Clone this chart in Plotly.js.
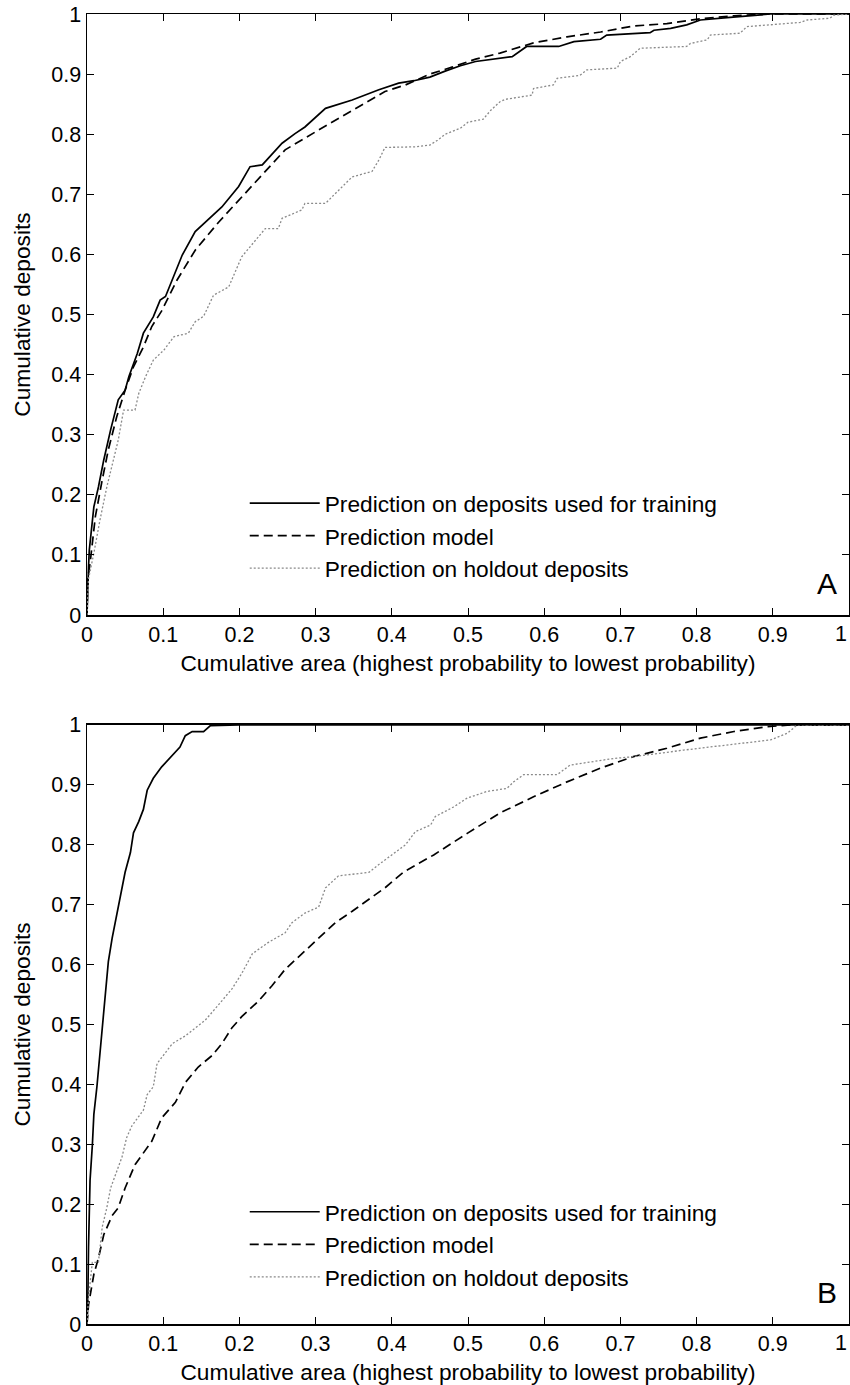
<!DOCTYPE html>
<html>
<head>
<meta charset="utf-8">
<script src="https://cdn.plot.ly/plotly-3.0.1.min.js"></script>
<style>html,body{margin:0;padding:0;background:#fff}#chart{width:850px;height:1385px}</style>
</head>
<body>
<div id="chart"></div>
<script>
// ---- data ----
const seriesNames = [
  'Prediction on deposits used for training',
  'Prediction model',
  'Prediction on holdout deposits'
];
const panelLabels = ['A', 'B'];
const xTitle = 'Cumulative area (highest probability to lowest probability)';
const yTitle = 'Cumulative deposits';
// x tick values / labels (the last label "1" is drawn right-aligned at the edge so it stays inside the page)
const xTickVals = [0, 0.1, 0.2, 0.3, 0.4, 0.5, 0.6, 0.7, 0.8, 0.9, 1];
const xTickText = ['0', '0.1', '0.2', '0.3', '0.4', '0.5', '0.6', '0.7', '0.8', '0.9', ''];
const xEdgeLabel = '1';

// Panel A
const aTrainX = [0,0.001,0.002,0.003,0.006,0.009,0.015,0.022,0.031,0.041,0.05,0.055,0.066,0.074,0.087,0.096,0.103,0.125,0.142,0.177,0.199,0.214,0.230,0.256,0.273,0.286,0.313,0.348,0.383,0.409,0.429,0.45,0.47,0.49,0.51,0.53,0.542,0.558,0.577,0.619,0.639,0.674,0.682,0.739,0.744,0.766,0.787,0.805,0.84,0.875,0.897,1];
const aTrainY = [0,0.07,0.08,0.108,0.147,0.18,0.213,0.258,0.308,0.358,0.374,0.397,0.435,0.469,0.496,0.524,0.53,0.599,0.638,0.679,0.713,0.746,0.749,0.785,0.801,0.812,0.843,0.857,0.874,0.885,0.889,0.895,0.905,0.914,0.921,0.924,0.926,0.929,0.946,0.946,0.954,0.958,0.965,0.969,0.973,0.976,0.982,0.99,0.994,0.998,1,1];

const aModelX = [0,0.001,0.004,0.011,0.020,0.028,0.039,0.05,0.061,0.074,0.085,0.098,0.118,0.142,0.173,0.199,0.225,0.260,0.304,0.348,0.391,0.418,0.45,0.48,0.51,0.542,0.586,0.630,0.674,0.717,0.761,0.805,0.849,0.892,0.95,1];
const aModelY = [0,0.06,0.086,0.164,0.225,0.275,0.33,0.374,0.413,0.446,0.48,0.506,0.557,0.607,0.654,0.69,0.727,0.774,0.807,0.84,0.871,0.882,0.9,0.912,0.925,0.935,0.952,0.962,0.97,0.98,0.984,0.992,0.997,1,1,1];

const aHoldX = [0,0.002,0.009,0.017,0.026,0.035,0.041,0.048,0.063,0.068,0.077,0.087,0.101,0.114,0.133,0.142,0.153,0.166,0.186,0.203,0.225,0.234,0.251,0.256,0.282,0.286,0.313,0.330,0.348,0.374,0.383,0.391,0.431,0.45,0.46,0.47,0.49,0.50,0.52,0.53,0.542,0.549,0.584,0.586,0.612,0.617,0.647,0.656,0.696,0.700,0.713,0.726,0.787,0.792,0.814,0.818,0.857,0.866,0.936,0.945,0.975,0.98,1];
const aHoldY = [0,0.06,0.103,0.158,0.213,0.258,0.291,0.341,0.341,0.369,0.397,0.424,0.441,0.463,0.469,0.488,0.497,0.532,0.546,0.596,0.629,0.643,0.643,0.66,0.674,0.685,0.685,0.707,0.729,0.738,0.757,0.778,0.779,0.782,0.79,0.80,0.81,0.82,0.825,0.84,0.854,0.858,0.865,0.876,0.882,0.893,0.898,0.907,0.91,0.921,0.929,0.943,0.946,0.951,0.957,0.965,0.968,0.979,0.986,0.99,0.993,0.998,1];

// Panel B
const bTrainX = [0,0.001,0.002,0.004,0.007,0.009,0.013,0.017,0.020,0.024,0.028,0.033,0.039,0.044,0.050,0.057,0.061,0.068,0.074,0.079,0.087,0.098,0.112,0.122,0.129,0.138,0.153,0.162,0.2,1];
const bTrainY = [0,0.03,0.129,0.24,0.298,0.35,0.396,0.455,0.5,0.552,0.605,0.644,0.683,0.715,0.754,0.787,0.82,0.839,0.859,0.891,0.911,0.93,0.95,0.963,0.982,0.989,0.989,0.999,1,1];

const bModelX = [0,0.002,0.009,0.015,0.022,0.033,0.041,0.050,0.063,0.074,0.085,0.098,0.116,0.129,0.146,0.164,0.177,0.190,0.203,0.225,0.243,0.260,0.282,0.304,0.326,0.348,0.370,0.391,0.416,0.455,0.499,0.542,0.586,0.630,0.674,0.717,0.761,0.805,0.849,0.892,0.923,1];
const bModelY = [0,0.032,0.083,0.11,0.149,0.181,0.194,0.227,0.266,0.285,0.305,0.344,0.37,0.403,0.429,0.448,0.468,0.494,0.513,0.539,0.565,0.592,0.618,0.644,0.67,0.689,0.709,0.728,0.755,0.783,0.819,0.853,0.88,0.905,0.928,0.947,0.961,0.978,0.989,0.997,1,1];

const bHoldX = [0,0.002,0.007,0.015,0.020,0.026,0.031,0.039,0.046,0.052,0.059,0.074,0.079,0.087,0.092,0.100,0.112,0.129,0.142,0.155,0.168,0.181,0.190,0.203,0.217,0.238,0.260,0.269,0.286,0.304,0.313,0.330,0.370,0.383,0.405,0.418,0.431,0.451,0.457,0.481,0.499,0.525,0.551,0.560,0.573,0.617,0.634,0.680,0.691,0.717,0.783,0.897,0.919,0.932,1];
const bHoldY = [0,0.044,0.103,0.103,0.162,0.194,0.227,0.253,0.279,0.311,0.331,0.357,0.383,0.396,0.435,0.448,0.468,0.481,0.494,0.507,0.526,0.546,0.559,0.585,0.618,0.637,0.653,0.67,0.686,0.696,0.728,0.748,0.754,0.767,0.787,0.80,0.822,0.833,0.847,0.863,0.878,0.889,0.894,0.905,0.917,0.917,0.933,0.942,0.944,0.947,0.958,0.975,0.986,1,1];

// ---- styling ----
const FONT = '"Liberation Sans", Arial, Helvetica, sans-serif';
const TICK_SIZE = 21.5;
const lineStyles = [
  {color: '#000000', width: 1.7, dash: 'solid'},
  {color: '#000000', width: 1.7, dash: '9px,5px'},
  {color: '#8a8a8a', width: 1.3, dash: '2px,2px'}
];

const panels = [
  {xs: [aTrainX, aModelX, aHoldX], ys: [aTrainY, aModelY, aHoldY], xa: 'x', ya: 'y', lg: 'legend'},
  {xs: [bTrainX, bModelX, bHoldX], ys: [bTrainY, bModelY, bHoldY], xa: 'x2', ya: 'y2', lg: 'legend2'}
];

const traces = [];
panels.forEach((p, pi) => {
  for (let i = 0; i < 3; i++) {
    traces.push({
      type: 'scatter', mode: 'lines',
      x: p.xs[i], y: p.ys[i],
      xaxis: p.xa, yaxis: p.ya,
      name: seriesNames[i],
      legend: p.lg,
      legendgroup: 'p' + pi + 's' + i,
      line: Object.assign({shape: 'linear'}, lineStyles[i]),
      hoverinfo: 'skip'
    });
  }
});

function axisBase() {
  return {
    range: [0, 1], autorange: false,
    tick0: 0, dtick: 0.1,
    ticks: 'inside', ticklen: 7, tickwidth: 1, tickcolor: '#000',
    showline: true, linewidth: 1.5, linecolor: '#000', mirror: 'ticks',
    showgrid: false, zeroline: false,
    tickfont: {family: FONT, size: TICK_SIZE, color: '#000'},
    fixedrange: true
  };
}
function xAxis(anchor, standoff) {
  return Object.assign(axisBase(), {
    domain: [0, 1], anchor: anchor,
    tickmode: 'array', tickvals: xTickVals, ticktext: xTickText,
    title: {text: xTitle, font: titleFont, standoff: standoff}
  });
}

const titleFont = {family: FONT, size: 22.7, color: '#000'};
const legendBase = {
  xanchor: 'left', yanchor: 'top',
  bgcolor: 'rgba(0,0,0,0)', borderwidth: 0,
  font: {family: FONT, size: 22.7, color: '#000'},
  itemwidth: 70, tracegroupgap: 0, traceorder: 'grouped'
};

function edgeLabel(xref, yref) {
  return {text: xEdgeLabel, xref: xref, yref: yref + ' domain', x: 1, y: 0,
    xanchor: 'right', yanchor: 'top', yshift: -5, showarrow: false,
    font: {family: FONT, size: TICK_SIZE, color: '#000'}};
}

const layout = {
  width: 850, height: 1385,
  margin: {l: 87, r: 1, t: 14, b: 61, pad: 0},
  paper_bgcolor: '#fff', plot_bgcolor: '#fff',
  font: {family: FONT, color: '#000'},
  showlegend: true,
  xaxis: xAxis('y', 9),
  yaxis: Object.assign(axisBase(), {domain: [0.5412, 1], anchor: 'x',
    title: {text: yTitle, font: titleFont, standoff: 14}}),
  xaxis2: xAxis('y2', 11),
  yaxis2: Object.assign(axisBase(), {domain: [0, 0.4573], anchor: 'x2',
    title: {text: yTitle, font: titleFont, standoff: 14}}),
  legend: Object.assign({}, legendBase, {x: 0.207, y: 0.6428}),
  legend2: Object.assign({}, legendBase, {x: 0.207, y: 0.1019}),
  annotations: [
    {text: panelLabels[0], xref: 'x domain', yref: 'y domain', x: 0.971, y: 0.052,
     xanchor: 'center', yanchor: 'middle', showarrow: false, font: {family: FONT, size: 30, color: '#000'}},
    {text: panelLabels[1], xref: 'x2 domain', yref: 'y2 domain', x: 0.971, y: 0.052,
     xanchor: 'center', yanchor: 'middle', showarrow: false, font: {family: FONT, size: 30, color: '#000'}},
    edgeLabel('x', 'y'),
    edgeLabel('x2', 'y2')
  ]
};

Plotly.newPlot('chart', traces, layout, {displayModeBar: false, staticPlot: true});
</script>
</body>
</html>
